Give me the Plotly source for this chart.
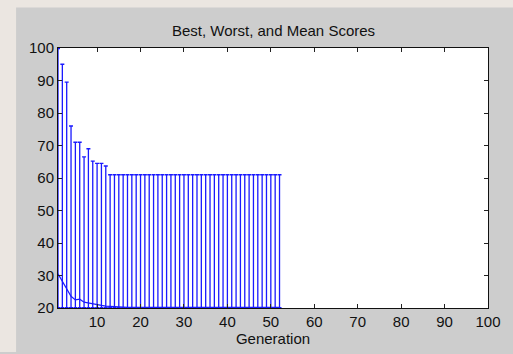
import plotly.graph_objects as go

generations = list(range(1, 53))
worst_scores = [99.8, 95.0, 89.5, 76.0, 71.0, 71.0, 66.5, 69.0, 65.2, 64.5, 64.5, 63.7] + [61.0] * 40
mean_scores = [30.5, 28.2, 25.7, 23.6, 22.5, 22.7, 21.8, 21.5, 21.2, 21.0, 20.8, 20.6, 20.5, 20.35, 20.25] + [20.2] * 37
best_scores = [20.1] * 52

x_ticks = [10, 20, 30, 40, 50, 60, 70, 80, 90, 100]
y_ticks = [20, 30, 40, 50, 60, 70, 80, 90, 100]

BLUE = "#1a1aff"
FONT = "Liberation Sans, Arial, sans-serif"

up = [w - m for w, m in zip(worst_scores, mean_scores)]
down = [m - b for m, b in zip(mean_scores, best_scores)]

fig = go.Figure()
fig.add_trace(go.Scatter(
    x=generations, y=mean_scores, mode="lines",
    line=dict(color=BLUE, width=1.2),
    error_y=dict(type="data", symmetric=False, array=up, arrayminus=down,
                 color=BLUE, thickness=1.3, width=2),
    showlegend=False, hoverinfo="skip",
))

W, H = 513, 354
PW, PH = 431, 264
BEIGE = "#ebe6e1"
# left strip (outside the grey figure panel)
fig.add_shape(type="rect", xref="paper", yref="paper", layer="below",
              x0=-58 / PW - 0.01, x1=(16 - 58) / PW,
              y0=-42 / PH - 0.01, y1=(312) / PH + 0.01,
              fillcolor=BEIGE, line=dict(width=0))
# top strip
fig.add_shape(type="rect", xref="paper", yref="paper", layer="below",
              x0=-58 / PW - 0.01, x1=(513 - 58) / PW + 0.01,
              y0=(312 - 7) / PH, y1=312 / PH + 0.01,
              fillcolor=BEIGE, line=dict(width=0))

fig.update_layout(
    width=W, height=H,
    margin=dict(l=58, r=24, t=48, b=42),
    paper_bgcolor="#cdcdcd",
    plot_bgcolor="white",
    font=dict(family=FONT, size=15, color="#111"),
    title=dict(text="Best, Worst, and Mean Scores", x=(273.5) / W, xanchor="center",
               y=1 - 31 / H, yanchor="middle", font=dict(size=15, color="#111")),
    xaxis=dict(range=[1, 100], tickvals=x_ticks, ticks="inside", ticklen=4,
               tickcolor="#222", showline=True, linecolor="#111", linewidth=1,
               mirror="ticks", showgrid=False, zeroline=False,
               title=dict(text="Generation", standoff=1, font=dict(size=15)),
               tickfont=dict(size=15)),
    yaxis=dict(range=[20, 100], tickvals=y_ticks, ticks="inside", ticklen=4,
               tickcolor="#222", showline=True, linecolor="#111", linewidth=1,
               mirror="ticks", showgrid=False, zeroline=False,
               tickfont=dict(size=15)),
)

fig.write_html("out.html")
